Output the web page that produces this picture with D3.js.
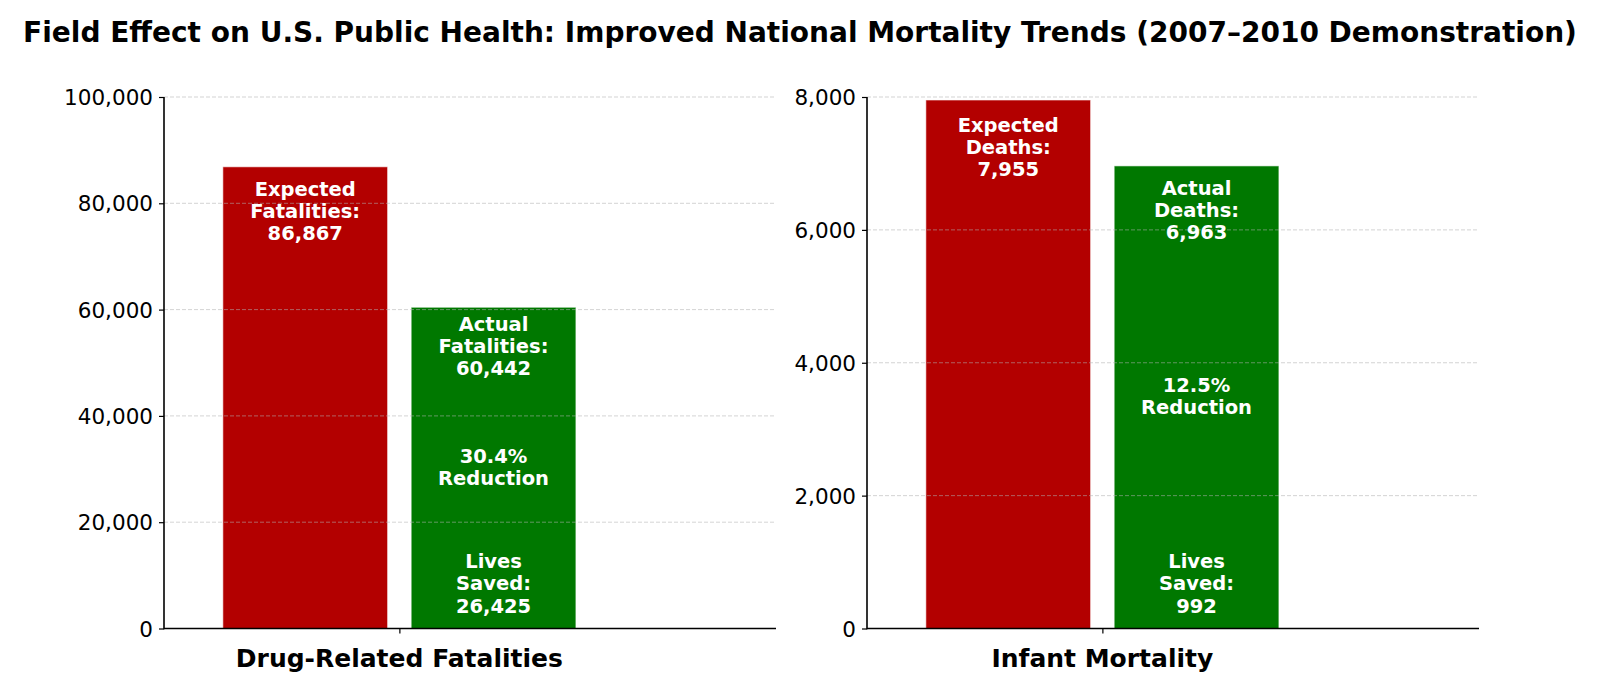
<!DOCTYPE html>
<html>
<head>
<meta charset="utf-8">
<script src="https://cdn.jsdelivr.net/npm/d3@7"></script>
<style>
  html, body { margin: 0; padding: 0; background: #fff; }
  svg { display: block; }
  text { font-family: "DejaVu Sans", sans-serif; }
</style>
</head>
<body>
<svg id="chart" width="1600" height="692"></svg>
<script>
// ---- Data ----
const panelNames = ["Drug-Related Fatalities", "Infant Mortality"];
const expectedValues = [86867, 7955];
const actualValues = [60442, 6963];
const livesSaved = [26425, 992];
const reductionPct = [30.4, 12.5];
const expectedNouns = ["Fatalities", "Deaths"];
const yMaxValues = [100000, 8000];
const yTickValues = [
  [0, 20000, 40000, 60000, 80000, 100000],
  [0, 2000, 4000, 6000, 8000]
];
const titleText = "Field Effect on U.S. Public Health: Improved National Mortality Trends (2007\u20132010 Demonstration)";

// ---- Styles ----
const RED = "#b30000";
const GREEN = "#007800";
const fmt = d3.format(",");

const svg = d3.select("#chart");

svg.append("text")
  .attr("x", 800).attr("y", 42)
  .attr("text-anchor", "middle")
  .attr("font-size", 28).attr("font-weight", "bold")
  .attr("fill", "#000")
  .text(titleText);

const panelX = [[164, 776], [867, 1479]];
const yRange = [628.5, 97];

panelNames.forEach((name, i) => {
  const x = d3.scaleLinear().domain([-0.5, 0.8]).range(panelX[i]);
  const y = d3.scaleLinear().domain([0, yMaxValues[i]]).range(yRange);
  const g = svg.append("g");
  const barW = x(0.35) - x(0);
  const y0 = y(0);

  const bars = [
    { pos: -0.2, value: expectedValues[i], color: RED },
    { pos: 0.2, value: actualValues[i], color: GREEN }
  ];

  g.selectAll("rect.bar").data(bars).enter().append("rect")
    .attr("class", "bar")
    .attr("x", d => x(d.pos) - barW / 2)
    .attr("width", barW)
    .attr("y", d => y(d.value))
    .attr("height", d => y0 - y(d.value))
    .attr("fill", d => d.color)
    .attr("stroke", "#ffffff")
    .attr("stroke-opacity", 0.6)
    .attr("stroke-width", 1);

  // gridlines on top of bars
  g.selectAll("line.grid").data(yTickValues[i]).enter().append("line")
    .attr("class", "grid")
    .attr("x1", panelX[i][0]).attr("x2", panelX[i][1])
    .attr("y1", d => y(d)).attr("y2", d => y(d))
    .attr("stroke", "#b0b0b0")
    .attr("stroke-opacity", 0.55)
    .attr("stroke-width", 1)
    .attr("stroke-dasharray", "4,2");

  // y axis
  const yAxis = d3.axisLeft(y).tickValues(yTickValues[i]).tickFormat(fmt).tickSize(5).tickPadding(6);
  const ya = g.append("g").attr("transform", `translate(${panelX[i][0]},0)`).call(yAxis);
  ya.select(".domain").attr("stroke", "#000").attr("stroke-width", 1.6).attr("d", `M0,${y0 + 0.8}V${yRange[1]}`);
  ya.selectAll(".tick line").attr("stroke", "#000").attr("stroke-width", 1.2);
  ya.selectAll(".tick text")
    .attr("font-family", "DejaVu Sans, sans-serif")
    .attr("font-size", 21.5)
    .attr("fill", "#000")
    .attr("dy", "0.35em");

  // x axis
  const xAxis = d3.axisBottom(x).tickValues([0]).tickFormat(() => "").tickSize(5);
  const xa = g.append("g").attr("transform", `translate(0,${y0})`).call(xAxis);
  xa.select(".domain").attr("stroke", "#000").attr("stroke-width", 1.6).attr("d", `M${panelX[i][0]},0H${panelX[i][1]}`);
  xa.selectAll(".tick line").attr("stroke", "#000").attr("stroke-width", 1.2);

  g.append("text")
    .attr("x", x(0)).attr("y", 667)
    .attr("text-anchor", "middle")
    .attr("font-size", 25).attr("font-weight", "bold")
    .attr("fill", "#000")
    .text(name);

  // bar labels
  const LS = 22.2;
  function multiline(cx, firstBaseline, lines) {
    const t = g.append("text")
      .attr("text-anchor", "middle")
      .attr("font-size", 19.5).attr("font-weight", "bold")
      .attr("fill", "#fff");
    lines.forEach((ln, k) => {
      t.append("tspan").attr("x", cx).attr("y", firstBaseline + k * LS).text(ln);
    });
  }
  const ev = expectedValues[i], av = actualValues[i];
  multiline(x(-0.2), y(ev * 0.96) + 10.5, ["Expected", expectedNouns[i] + ":", fmt(ev)]);
  multiline(x(0.2), y(av * 0.96) + 10.5, ["Actual", expectedNouns[i] + ":", fmt(av)]);
  multiline(x(0.2), y(av / 2) - 5, [reductionPct[i].toFixed(1) + "%", "Reduction"]);
  multiline(x(0.2), y0 - 16 - 2 * LS, ["Lives", "Saved:", fmt(livesSaved[i])]);
});
</script>
</body>
</html>
